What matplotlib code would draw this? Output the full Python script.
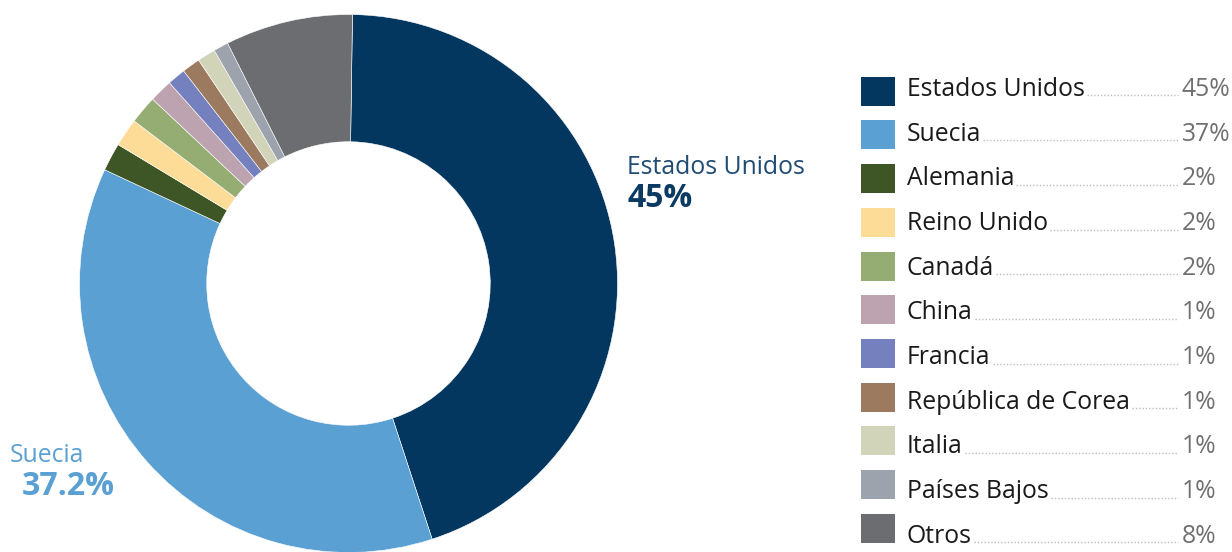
import matplotlib
matplotlib.use("Agg")
import matplotlib.pyplot as plt
from matplotlib.lines import Line2D

# Country shares (%)
countries = ["Estados Unidos", "Suecia", "Alemania", "Reino Unido", "Canadá",
             "China", "Francia", "República de Corea", "Italia", "Países Bajos", "Otros"]
shares = [45.0, 37.2, 1.7, 1.7, 1.7, 1.4, 1.1, 1.1, 1.1, 0.9, 7.7]
colors = ["#03375F", "#5AA0D3", "#3E5626", "#FDDC97", "#95AD72",
          "#BDA3AF", "#7580BE", "#9C7A5F", "#D2D4BA", "#9CA3AC", "#6C6D71"]

FONT = "Open Sans"
W, H = 1232, 552
fig = plt.figure(figsize=(W / 100, H / 100), dpi=100)

def fx(px):
    return px / W

def fy(py):
    return 1 - py / H

# Donut
cx, cy, r = 348.5, 283.5, 269
ax = fig.add_axes([fx(cx - r), (H - cy - r) / H, 2 * r / W, 2 * r / H])
ax.pie(shares, colors=colors, startangle=89.15, counterclock=False, radius=1,
       wedgeprops=dict(width=0.473, edgecolor="white", linewidth=0.4))
ax.set_xlim(-1, 1)
ax.set_ylim(-1, 1)
ax.set_aspect("equal")
ax.axis("off")

# Slice call-outs
fig.text(fx(627), fy(174), countries[0], fontsize=17.8, color="#1F4B74",
         family=FONT)
fig.text(fx(627), fy(207), f"{shares[0]:.0f}%", fontsize=23, color="#0B3A63",
         family=FONT, fontweight="bold")
fig.text(fx(10), fy(462), countries[1], fontsize=17.8, color="#5AA0D3",
         family=FONT)
fig.text(fx(22), fy(495), f"{shares[1]:.1f}%", fontsize=23, color="#5AA0D3",
         family=FONT, fontweight="bold")

# Legend with dotted leaders
sq_x, sq_w, sq_h = 861, 34, 29
sq_y0, sq_dy = 91.2, 43.7
tx_x, tx_y0, tx_dy = 907, 96, 44.67
pct_x = 1182
labels = []
for i, (name, val, col) in enumerate(zip(countries, shares, colors)):
    yc = sq_y0 + i * sq_dy
    fig.patches.append(plt.Rectangle((fx(sq_x), fy(yc + sq_h / 2)), sq_w / W, sq_h / H,
                                     transform=fig.transFigure, facecolor=col,
                                     edgecolor="none"))
    yb = tx_y0 + i * tx_dy
    t = fig.text(fx(tx_x), fy(yb), name, fontsize=17.8, color="#1A1A1A",
                 family=FONT)
    fig.text(fx(pct_x), fy(yb), f"{round(val):d}%", fontsize=17.8, color="#707070",
             family=FONT)
    labels.append((t, yb))

fig.canvas.draw()
renderer = fig.canvas.get_renderer()
for t, yb in labels:
    bb = t.get_window_extent(renderer)
    x0 = bb.x1 + 2
    x1 = pct_x - 4
    fig.lines.append(Line2D([fx(x0), fx(x1)], [fy(yb - 0.5), fy(yb - 0.5)],
                            transform=fig.transFigure, color="#BDBDBD",
                            linewidth=1.0, linestyle=(0, (1, 1.4))))

fig.savefig("out.png", dpi=100, facecolor="white")
